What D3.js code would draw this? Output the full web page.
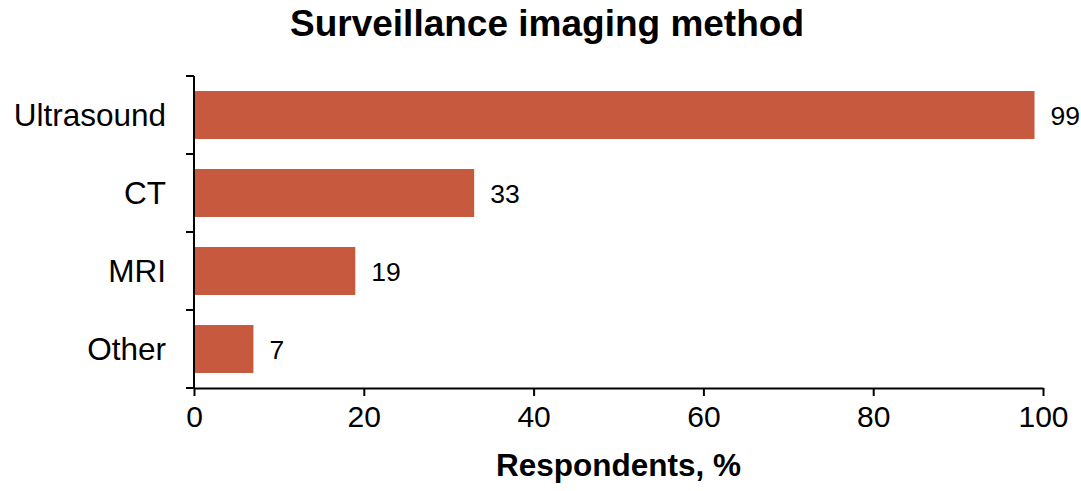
<!DOCTYPE html>
<html>
<head>
<meta charset="utf-8">
<script src="https://cdn.jsdelivr.net/npm/d3@7"></script>
<style>
  html, body { margin: 0; padding: 0; background: #fff; }
  text { font-family: Arial, "Liberation Sans", sans-serif; fill: #000; }
</style>
</head>
<body>
<svg id="chart" width="1081" height="491"></svg>
<script>
const categories = ["Ultrasound", "CT", "MRI", "Other"];
const values = [99, 33, 19, 7];
const xTicks = [0, 20, 40, 60, 80, 100];
const chartTitle = "Surveillance imaging method";
const xTitle = "Respondents, %";

(function () {
const svg = d3.select("#chart");
const mLeft = 194, mRight = 1043, mTop = 76, mBottom = 388;
const barColor = "#C75A3E";

const x = d3.scaleLinear().domain([0, 100]).range([mLeft, mRight]);
const y = d3.scaleBand().domain(categories).range([mTop, mBottom])
  .paddingInner(0.385).paddingOuter(0.1925);

// bars
svg.append("g").selectAll("rect").data(values).join("rect")
  .attr("x", x(0))
  .attr("y", (d, i) => y(categories[i]))
  .attr("width", d => x(d) - x(0))
  .attr("height", y.bandwidth())
  .attr("fill", barColor);

// value labels
svg.append("g").selectAll("text").data(values).join("text")
  .attr("x", d => x(d) + 16)
  .attr("y", (d, i) => y(categories[i]) + y.bandwidth() / 2)
  .attr("dy", "0.36em")
  .attr("font-size", 26.5)
  .text(d => d);

// y axis with ticks at band boundaries
const yAxisG = svg.append("g");
yAxisG.append("line")
  .attr("x1", mLeft).attr("x2", mLeft)
  .attr("y1", mTop).attr("y2", mBottom)
  .attr("stroke", "#000").attr("stroke-width", 2);
const boundaries = categories.map(c => y(c) - y.step() * y.paddingInner() / 2);
boundaries.push(mBottom);
yAxisG.selectAll("line.tick").data(boundaries).join("line")
  .attr("class", "tick")
  .attr("x1", mLeft - 8).attr("x2", mLeft)
  .attr("y1", d => d).attr("y2", d => d)
  .attr("stroke", "#000").attr("stroke-width", 2);
yAxisG.selectAll("text").data(categories).join("text")
  .attr("x", mLeft - 28)
  .attr("y", d => y(d) + y.bandwidth() / 2)
  .attr("dy", "0.36em")
  .attr("text-anchor", "end")
  .attr("font-size", 31.5)
  .text(d => d);

// x axis
const xAxis = d3.axisBottom(x).tickValues(xTicks).tickSize(8).tickPadding(10).tickSizeOuter(0);
const xg = svg.append("g").attr("transform", `translate(0,${mBottom})`).call(xAxis);
xg.select(".domain").attr("stroke", "#000").attr("stroke-width", 2);
xg.selectAll(".tick line").attr("stroke", "#000").attr("stroke-width", 2);
xg.selectAll(".tick text")
  .attr("font-size", 30)
  .attr("font-family", "Arial, 'Liberation Sans', sans-serif")
  .attr("fill", "#000");

// titles
svg.append("text")
  .attr("x", 547).attr("y", 36)
  .attr("text-anchor", "middle")
  .attr("font-size", 37).attr("font-weight", "bold")
  .text(chartTitle);
svg.append("text")
  .attr("x", (mLeft + mRight) / 2).attr("y", 476)
  .attr("text-anchor", "middle")
  .attr("font-size", 31.5).attr("font-weight", "bold")
  .text(xTitle);
})();
</script>
</body>
</html>
